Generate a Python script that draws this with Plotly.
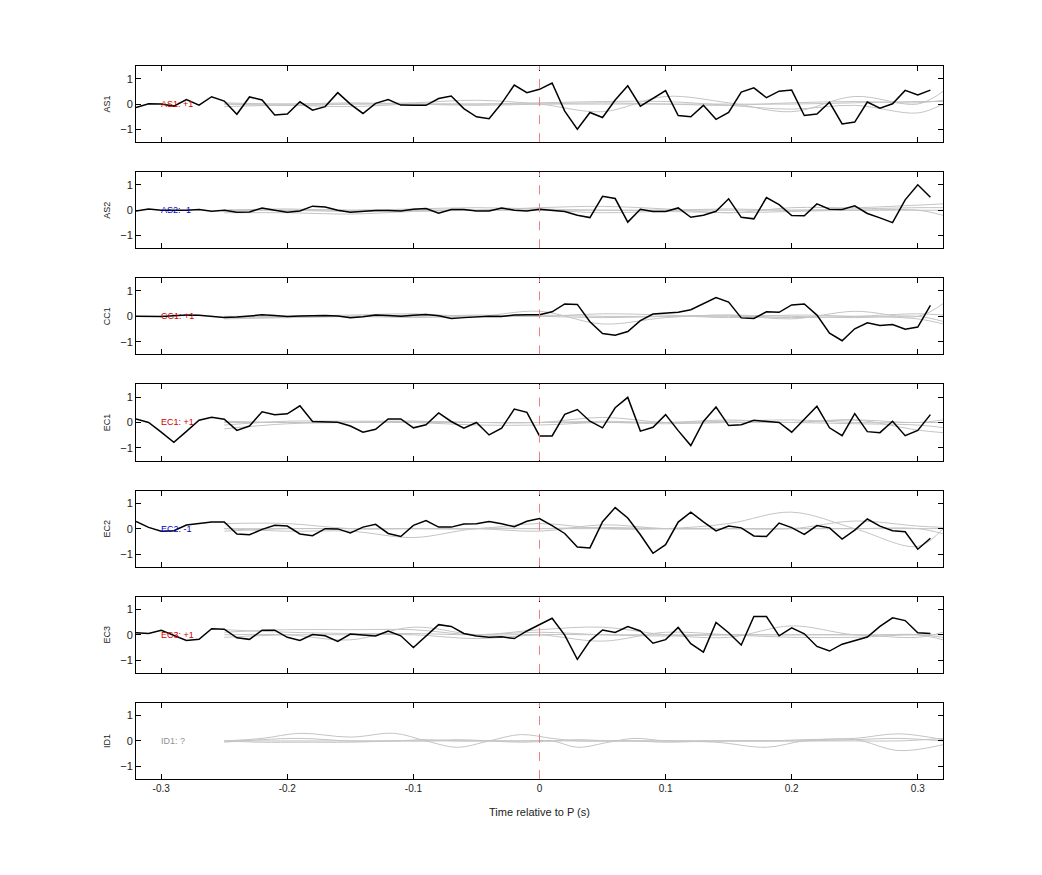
import plotly.graph_objects as go
from plotly.subplots import make_subplots

t = [round(-0.32 + 0.01 * k, 2) for k in range(64)]

names = ["AS1", "AS2", "CC1", "EC1", "EC2", "EC3", "ID1"]
tags = ["AS1: +1", "AS2: -1", "CC1: +1", "EC1: +1", "EC2: -1", "EC3: +1", "ID1: ?"]
tag_colors = ["#d00000", "#0000c8", "#d00000", "#d00000", "#0000c8", "#d00000", "#909090"]

as1 = [-0.14, 0.01, 0.0, -0.08, 0.18, -0.04, 0.29, 0.12, -0.4, 0.28, 0.16, -0.43, -0.39, 0.09, -0.24, -0.1,
       0.45, 0.0, -0.37, 0.03, 0.18, -0.04, -0.05, -0.05, 0.22, 0.32, -0.18, -0.5, -0.58, 0.03, 0.75, 0.45,
       0.58, 0.83, -0.28, -0.99, -0.33, -0.53, 0.16, 0.72, -0.08, 0.22, 0.53, -0.45, -0.5, -0.05, -0.6, -0.33,
       0.47, 0.64, 0.25, 0.51, 0.55, -0.45, -0.39, 0.07, -0.78, -0.71, 0.08, -0.16, 0.01, 0.54, 0.36, 0.55]
as2 = [-0.03, 0.05, 0.0, 0.0, 0.0, 0.03, -0.04, 0.0, -0.08, -0.07, 0.09, 0.0, -0.08, -0.03, 0.16, 0.13,
       0.0, -0.08, -0.04, -0.01, -0.01, -0.03, 0.04, 0.07, -0.12, 0.03, 0.03, -0.03, -0.03, 0.09, 0.0, -0.03,
       0.04, 0.0, -0.05, -0.2, -0.29, 0.55, 0.46, -0.47, 0.04, -0.05, -0.05, 0.09, -0.28, -0.2, -0.04, 0.45,
       -0.28, -0.34, 0.5, 0.22, -0.21, -0.22, 0.25, 0.04, 0.03, 0.17, -0.13, -0.3, -0.49, 0.41, 1.0, 0.51]
cc1 = [0.0, -0.01, -0.01, 0.02, 0.05, 0.04, 0.0, -0.04, -0.03, 0.02, 0.06, 0.03, -0.01, 0.01, 0.02, 0.03,
       0.01, -0.05, -0.02, 0.05, 0.03, 0.0, 0.04, 0.07, 0.02, -0.08, -0.05, -0.02, 0.0, -0.01, 0.05, 0.06,
       0.06, 0.18, 0.49, 0.47, -0.21, -0.68, -0.74, -0.6, -0.17, 0.09, 0.13, 0.16, 0.26, 0.51, 0.74, 0.56,
       -0.06, -0.08, 0.18, 0.16, 0.45, 0.49, 0.05, -0.66, -0.96, -0.49, -0.25, -0.36, -0.32, -0.51, -0.42, 0.43]
ec1 = [0.14, 0.0, -0.38, -0.78, -0.35, 0.09, 0.21, 0.13, -0.31, -0.14, 0.42, 0.31, 0.34, 0.66, 0.04, 0.03,
       0.01, -0.14, -0.38, -0.27, 0.14, 0.14, -0.21, -0.09, 0.38, 0.04, -0.22, 0.0, -0.49, -0.22, 0.53, 0.4,
       -0.53, -0.53, 0.32, 0.51, 0.05, -0.21, 0.58, 0.99, -0.34, -0.19, 0.31, -0.32, -0.91, 0.04, 0.61, -0.12,
       -0.09, 0.09, 0.04, 0.0, -0.38, 0.14, 0.64, -0.21, -0.52, 0.35, -0.36, -0.4, 0.05, -0.52, -0.31, 0.31]
ec2 = [0.28, 0.05, -0.1, -0.08, 0.14, 0.19, 0.26, 0.26, -0.21, -0.24, -0.03, 0.13, 0.1, -0.21, -0.28, 0.0,
       -0.01, -0.17, 0.06, 0.17, -0.19, -0.31, 0.13, 0.32, 0.06, 0.06, 0.18, 0.19, 0.28, 0.19, 0.08, 0.29,
       0.4, 0.12, -0.19, -0.72, -0.76, 0.27, 0.83, 0.42, -0.24, -0.97, -0.63, 0.26, 0.65, 0.27, -0.09, 0.1,
       0.03, -0.29, -0.31, 0.22, 0.04, -0.23, 0.12, 0.03, -0.41, -0.06, 0.38, 0.1, -0.08, -0.12, -0.81, -0.38]
ec3 = [0.08, 0.05, 0.18, -0.01, -0.22, -0.18, 0.24, 0.22, -0.12, -0.18, 0.18, 0.18, -0.1, -0.22, 0.01, -0.04,
       -0.26, 0.03, 0.0, -0.05, 0.15, -0.04, -0.5, -0.05, 0.4, 0.33, 0.05, -0.05, -0.1, -0.08, -0.15, 0.15,
       0.4, 0.65, -0.01, -0.97, -0.24, 0.19, 0.09, 0.32, 0.15, -0.33, -0.19, 0.29, -0.35, -0.68, 0.49, 0.08,
       -0.4, 0.72, 0.72, -0.04, 0.27, 0.04, -0.46, -0.64, -0.37, -0.24, -0.09, 0.33, 0.67, 0.56, 0.08, 0.05]
black_series = [as1, as2, cc1, ec1, ec2, ec3, None]

# smooth grey reference curves, sampled every 0.05 s
gx = [-0.25, -0.2, -0.15, -0.1, -0.05, 0.0, 0.05, 0.1, 0.15, 0.2, 0.25, 0.3, 0.32]
grey = [
    [[0.0, -0.05, 0.0, 0.05, 0.15, 0.0, -0.3, 0.3, 0.05, -0.3, 0.3, 0.0, 0.5],
     [-0.1, -0.05, -0.1, 0.0, 0.0, 0.05, 0.1, 0.1, -0.05, -0.2, -0.05, -0.35, 0.0],
     [0.0, 0.0, 0.0, 0.0, 0.0, 0.0, 0.0, 0.0, 0.0, 0.0, 0.05, 0.1, 0.1],
     [0.05, 0.0, 0.05, 0.0, -0.05, 0.0, 0.05, 0.0, -0.05, 0.05, 0.1, 0.05, 0.15]],
    [[-0.1, -0.1, -0.15, -0.05, 0.0, 0.1, 0.15, 0.05, -0.1, 0.1, 0.1, 0.2, 0.25],
     [0.0, 0.05, 0.0, 0.05, 0.1, 0.05, 0.0, 0.0, 0.05, 0.0, 0.05, 0.1, 0.1],
     [0.0, 0.0, -0.05, 0.0, 0.0, 0.0, -0.1, -0.05, -0.1, -0.05, 0.0, 0.0, -0.2],
     [0.0, 0.0, 0.0, 0.0, 0.0, 0.0, 0.0, 0.0, 0.0, 0.0, 0.0, 0.0, 0.0]],
    [[-0.05, 0.0, 0.05, 0.1, 0.0, 0.2, -0.3, -0.05, 0.05, -0.1, 0.2, 0.0, 0.5],
     [0.0, -0.05, 0.0, 0.0, 0.05, 0.0, 0.1, 0.05, -0.05, 0.05, 0.0, -0.1, -0.3],
     [0.0, 0.0, 0.0, 0.05, 0.0, 0.05, 0.0, 0.0, 0.0, -0.05, 0.0, 0.1, 0.05],
     [-0.1, -0.05, 0.0, -0.05, 0.0, 0.0, -0.05, 0.0, 0.05, 0.0, -0.05, 0.0, -0.2]],
    [[-0.25, -0.05, 0.0, 0.05, 0.0, 0.0, 0.05, 0.0, 0.1, 0.0, 0.1, -0.3, -0.4],
     [-0.1, 0.05, 0.05, 0.05, 0.0, 0.0, 0.0, 0.0, 0.05, 0.1, 0.0, 0.0, 0.0],
     [0.0, 0.0, 0.0, 0.0, 0.0, 0.0, 0.2, 0.0, 0.0, 0.0, -0.05, -0.1, -0.2],
     [0.05, 0.0, 0.0, 0.0, -0.1, -0.1, 0.0, -0.05, 0.0, 0.0, 0.1, 0.0, 0.1]],
    [[0.2, 0.2, 0.0, 0.0, 0.0, 0.2, 0.0, 0.0, 0.2, 0.65, 0.0, -0.7, 0.0],
     [0.0, -0.1, -0.1, -0.35, 0.0, 0.0, 0.05, 0.0, 0.0, 0.0, 0.3, 0.1, 0.05],
     [-0.1, 0.0, 0.0, 0.0, 0.0, -0.1, 0.15, 0.0, 0.0, 0.0, 0.0, 0.0, -0.2],
     [0.0, 0.0, 0.0, 0.0, 0.0, 0.0, 0.0, 0.0, 0.0, 0.0, 0.0, 0.0, 0.0]],
    [[0.1, 0.2, 0.2, 0.2, 0.0, 0.2, 0.3, 0.0, -0.1, 0.35, 0.0, 0.0, -0.2],
     [0.0, 0.0, -0.2, 0.3, 0.0, 0.0, -0.25, 0.1, 0.0, -0.1, -0.1, 0.0, -0.1],
     [-0.1, 0.0, 0.0, 0.0, -0.15, 0.0, 0.0, 0.0, 0.0, 0.0, 0.0, 0.0, 0.0],
     [0.2, 0.1, 0.05, 0.05, 0.0, 0.1, 0.0, -0.05, 0.0, 0.0, 0.0, -0.1, 0.1]],
]
id1_x = [-0.25, -0.22, -0.19, -0.15, -0.115, -0.09, -0.065, -0.04, -0.015, 0.01, 0.03, 0.055, 0.075,
         0.1, 0.14, 0.18, 0.21, 0.25, 0.285, 0.32]
id1_grey = [
    [0.0, 0.1, 0.3, 0.15, 0.3, 0.0, -0.25, 0.0, 0.25, 0.1, 0.0, 0.0, 0.0, 0.0, 0.0, 0.0, 0.0, 0.05, 0.1, 0.0],
    [0.0, 0.0, 0.0, 0.0, 0.0, 0.0, 0.0, 0.0, 0.0, 0.0, -0.25, -0.05, 0.1, 0.0, -0.05, -0.25, 0.0, 0.05, -0.38, -0.15],
    [-0.05, 0.05, 0.1, 0.0, 0.0, 0.05, 0.0, 0.0, 0.0, 0.0, 0.0, 0.0, 0.0, 0.0, 0.0, 0.0, 0.05, 0.1, 0.28, 0.05],
    [0.0, -0.05, -0.05, -0.05, 0.0, 0.0, 0.05, 0.0, -0.05, 0.0, 0.05, 0.0, 0.0, -0.05, 0.0, 0.0, 0.0, 0.0, 0.0, 0.1],
]

n = len(names)
fig = make_subplots(rows=n, cols=1, shared_xaxes=True, vertical_spacing=30 / 713)

for i in range(n):
    r = i + 1
    if i < 6:
        for g in grey[i]:
            fig.add_trace(go.Scatter(x=gx, y=g, mode="lines", line=dict(color="#c4c4c4", width=1, shape="spline"),
                                     showlegend=False, hoverinfo="skip"), row=r, col=1)
    else:
        for g in id1_grey:
            fig.add_trace(go.Scatter(x=id1_x, y=g, mode="lines", line=dict(color="#c4c4c4", width=1, shape="spline"),
                                     showlegend=False, hoverinfo="skip"), row=r, col=1)
    if black_series[i] is not None:
        fig.add_trace(go.Scatter(x=t, y=black_series[i], mode="lines", line=dict(color="black", width=1.5),
                                 showlegend=False), row=r, col=1)
    fig.add_shape(type="line", x0=0, x1=0, y0=-1.5, y1=1.5, line=dict(color="#f08080", width=1, dash="dash"),
                  row=r, col=1)
    fig.add_annotation(x=-0.302, y=0, text=tags[i], showarrow=False, xanchor="left",
                       font=dict(size=9, color=tag_colors[i]), row=r, col=1)
    fig.update_yaxes(range=[-1.5, 1.5], tickvals=[-1, 0, 1], ticks="inside", ticklen=5, mirror="ticks",
                     showline=True, linecolor="black", linewidth=1, tickcolor="black", showgrid=False, zeroline=False,
                     tickfont=dict(size=11, color="#222"),
                     title=dict(text=names[i], font=dict(size=9, color="#222"), standoff=8), row=r, col=1)
    fig.update_xaxes(range=[-0.32, 0.32], tickvals=[-0.3, -0.2, -0.1, 0, 0.1, 0.2, 0.3], ticktext=["-0.3", "-0.2", "-0.1", "0", "0.1", "0.2", "0.3"],
                     ticks="inside", ticklen=5, mirror="ticks", showline=True, linecolor="black", linewidth=1,
                     tickcolor="black", tickfont=dict(size=10, color="#222"),
                     showgrid=False, zeroline=False, showticklabels=(i == n - 1), row=r, col=1)

fig.update_xaxes(title=dict(text="Time relative to P (s)", font=dict(size=11, color="#222")), row=n, col=1)
fig.update_layout(width=1042, height=875, margin=dict(l=128, r=107, t=58, b=104),
                  plot_bgcolor="white", paper_bgcolor="white",
                  font=dict(family="Liberation Sans, Arial", size=10, color="#222"))
fig.write_html("out.html")
